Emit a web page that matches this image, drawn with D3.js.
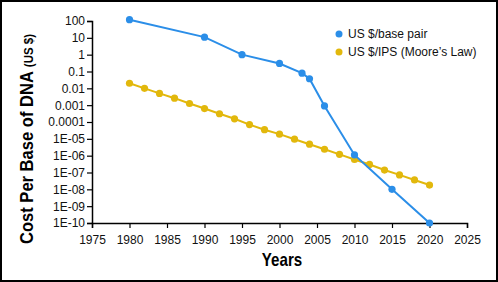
<!DOCTYPE html>
<html>
<head>
<meta charset="utf-8">
<script src="https://cdn.jsdelivr.net/npm/d3@7"></script>
<style>
  body { margin: 0; background: #fff; }
  svg { display: block; }
</style>
</head>
<body>
<div id="canvas"></div>
<script>
"use strict";

let svgWidth = 498;
let svgHeight = 282;

let margin = { top: 21, right: 31, bottom: 59, left: 92 };

/* ---------------- DATA ---------------- */

let dnaYears = [1980, 1990, 1995, 2000, 2003, 2004, 2006, 2010, 2015, 2020];
let dnaCost = [120, 11, 1, 0.3, 0.08, 0.037, 0.0009, 1.1e-6, 1e-8, 1e-10];

let mooreYears = [1980, 1982, 1984, 1986, 1988, 1990, 1992, 1994, 1996, 1998,
    2000, 2002, 2004, 2006, 2008, 2010, 2012, 2014, 2016, 2018, 2020];
let mooreCost = [0.02, 0.01, 0.005, 0.0026, 0.00126, 0.00063, 0.00031, 0.000155,
    7e-5, 3.5e-5, 1.9e-5, 9.5e-6, 4.8e-6, 2.4e-6, 1.2e-6, 5.9e-7, 3e-7,
    1.4e-7, 7.2e-8, 3.6e-8, 1.8e-8];

let xTicks = [1975, 1980, 1985, 1990, 1995, 2000, 2005, 2010, 2015, 2020, 2025];
let yTicks = [100, 10, 1, 0.1, 0.01, 0.001, 0.0001, 1e-5, 1e-6, 1e-7, 1e-8, 1e-9, 1e-10];
let yTickLabels = ["100", "10", "1", "0.1", "0.01", "0.001", "0.0001", "1E-05",
    "1E-06", "1E-07", "1E-08", "1E-09", "1E-10"];

let seriesNames = ["US $/base pair", "US $/IPS (Moore\u2019s Law)"];
let colors = ["#2b8ee8", "#e2b80c"];

/* ---------------- SVG ---------------- */

let svg = d3.select("#canvas")
    .append("svg")
    .attr("width", svgWidth)
    .attr("height", svgHeight)
    .style("font-family", "'Liberation Sans', Arial, sans-serif");

/* Border */
svg.append("rect")
    .attr("x", 1)
    .attr("y", 1)
    .attr("width", svgWidth - 2)
    .attr("height", svgHeight - 2)
    .attr("fill", "none")
    .attr("stroke", "black")
    .attr("stroke-width", 2);

/* ---------------- SCALES ---------------- */

let xScale = d3.scaleLinear()
    .domain([1975, 2025])
    .range([margin.left, svgWidth - margin.right]);

let yScale = d3.scaleLog()
    .domain([1e-10, 100])
    .range([svgHeight - margin.bottom, margin.top]);

/* ---------------- AXES ---------------- */

let xAxis = d3.axisBottom(xScale)
    .tickValues(xTicks)
    .tickFormat(d3.format("d"))
    .tickSizeOuter(0)
    .tickSize(5);

let gx = svg.append("g")
    .attr("transform", "translate(0," + (svgHeight - margin.bottom) + ")")
    .call(xAxis);

gx.select(".domain").attr("stroke-width", 1.5);
gx.selectAll(".tick line").attr("stroke-width", 1.2);
gx.selectAll("text")
    .attr("font-size", "12px")
    .attr("font-family", "'Liberation Sans', Arial, sans-serif")
    .attr("fill", "#111")
    .attr("dy", "1.1em");

let yAxis = d3.axisLeft(yScale)
    .tickValues(yTicks)
    .tickFormat(function (d, i) { return yTickLabels[i]; })
    .tickSizeOuter(0)
    .tickSize(5);

let gy = svg.append("g")
    .attr("transform", "translate(" + margin.left + ",0)")
    .call(yAxis);

gy.select(".domain").attr("stroke-width", 1.5);
gy.selectAll(".tick line").attr("stroke-width", 1.2);
gy.selectAll("text")
    .attr("font-size", "12px")
    .attr("font-family", "'Liberation Sans', Arial, sans-serif")
    .attr("fill", "#111")
    .attr("x", -7);

/* ---------------- TITLES ---------------- */

// condensed bold look: squeeze a bold face horizontally
svg.append("text")
    .attr("transform", "translate(" + 282 + ",266) scale(0.84,1)")
    .attr("text-anchor", "middle")
    .attr("font-family", "'Liberation Sans', Arial, sans-serif")
    .attr("font-weight", "bold")
    .attr("font-size", "18px")
    .text("Years");

let yTitle = svg.append("text")
    .attr("transform", "translate(33,139) rotate(-90) scale(0.92,1)")
    .attr("text-anchor", "middle")
    .attr("font-family", "'Liberation Sans', Arial, sans-serif")
    .attr("font-weight", "bold");

yTitle.append("tspan").attr("font-size", "18px").text("Cost Per Base of DNA ");
yTitle.append("tspan").attr("font-size", "12.5px").text("(US $)");

/* ---------------- LINES ---------------- */

let line = d3.line()
    .x(function (d) { return xScale(d.year); })
    .y(function (d) { return yScale(d.cost); });

let series = [
    dnaYears.map(function (y, i) { return { year: y, cost: dnaCost[i] }; }),
    mooreYears.map(function (y, i) { return { year: y, cost: mooreCost[i] }; })
];

// draw yellow first so blue sits on top
[1, 0].forEach(function (s) {
    let g = svg.append("g");

    g.append("path")
        .datum(series[s])
        .attr("d", line)
        .attr("fill", "none")
        .attr("stroke", colors[s])
        .attr("stroke-width", 2);

    g.selectAll("circle")
        .data(series[s])
        .enter()
        .append("circle")
        .attr("cx", function (d) { return xScale(d.year); })
        .attr("cy", function (d) { return yScale(d.cost); })
        .attr("r", 3.6)
        .attr("fill", colors[s]);
});

/* ---------------- LEGEND ---------------- */

let legend = svg.append("g").attr("transform", "translate(339,34)");

seriesNames.forEach(function (name, i) {
    legend.append("circle")
        .attr("cx", 0)
        .attr("cy", i * 18)
        .attr("r", 3.5)
        .attr("fill", colors[i]);

    legend.append("text")
        .attr("x", 9)
        .attr("y", i * 18 + 4)
        .attr("font-size", "12px")
        .attr("fill", "#111")
        .text(name);
});
</script>
</body>
</html>
